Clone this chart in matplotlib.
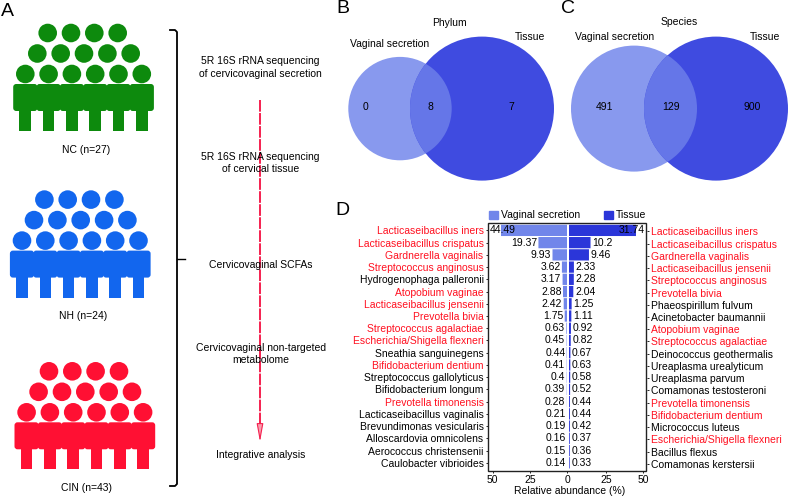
import matplotlib
matplotlib.use('Agg')
import matplotlib.pyplot as plt
from matplotlib.patches import Circle, FancyBboxPatch, Rectangle, Patch
from matplotlib.transforms import ScaledTranslation

plt.rcParams['font.family'] = ['Liberation Sans', 'DejaVu Sans']

W, H = 788, 497

# grupos do painel A
grupos = ['NC (n=27)', 'NH (n=24)', 'CIN (n=43)']
cores_grupos = ['#0d8a0d', '#1266ee', '#ff1033']

# etapas do fluxo
etapas = ['5R 16S rRNA sequencing\nof cervicovaginal secretion',
          '5R 16S rRNA sequencing\nof cervical tissue',
          'Cervicovaginal SCFAs',
          'Cervicovaginal non-targeted\nmetabolome',
          'Integrative analysis']

# venn: (esquerda, intersecção, direita)
venn_filo = [0, 8, 7]
venn_especie = [491, 129, 900]

# painel D
nomes_secrecao = ['Lacticaseibacillus iners', 'Lacticaseibacillus crispatus', 'Gardnerella vaginalis',
                  'Streptococcus anginosus', 'Hydrogenophaga palleronii', 'Atopobium vaginae',
                  'Lacticaseibacillus jensenii', 'Prevotella bivia', 'Streptococcus agalactiae',
                  'Escherichia/Shigella flexneri', 'Sneathia sanguinegens', 'Bifidobacterium dentium',
                  'Streptococcus gallolyticus', 'Bifidobacterium longum', 'Prevotella timonensis',
                  'Lacticaseibacillus vaginalis', 'Brevundimonas vesicularis', 'Alloscardovia omnicolens',
                  'Aerococcus christensenii', 'Caulobacter vibrioides']
valores_secrecao = [44.49, 19.37, 9.93, 3.62, 3.17, 2.88, 2.42, 1.75, 0.63, 0.45,
                    0.44, 0.41, 0.4, 0.39, 0.28, 0.21, 0.19, 0.16, 0.15, 0.14]
nomes_tecido = ['Lacticaseibacillus iners', 'Lacticaseibacillus crispatus', 'Gardnerella vaginalis',
                'Lacticaseibacillus jensenii', 'Streptococcus anginosus', 'Prevotella bivia',
                'Phaeospirillum fulvum', 'Acinetobacter baumannii', 'Atopobium vaginae',
                'Streptococcus agalactiae', 'Deinococcus geothermalis', 'Ureaplasma urealyticum',
                'Ureaplasma parvum', 'Comamonas testosteroni', 'Prevotella timonensis',
                'Bifidobacterium dentium', 'Micrococcus luteus', 'Escherichia/Shigella flexneri',
                'Bacillus flexus', 'Comamonas kerstersii']
valores_tecido = [31.74, 10.2, 9.46, 2.33, 2.28, 2.04, 1.25, 1.11, 0.92, 0.82,
                  0.67, 0.63, 0.58, 0.52, 0.44, 0.44, 0.42, 0.37, 0.36, 0.33]
nomes_vermelhos = ['Lacticaseibacillus iners', 'Lacticaseibacillus crispatus', 'Gardnerella vaginalis',
                   'Streptococcus anginosus', 'Atopobium vaginae', 'Lacticaseibacillus jensenii',
                   'Prevotella bivia', 'Streptococcus agalactiae', 'Escherichia/Shigella flexneri',
                   'Bifidobacterium dentium', 'Prevotella timonensis']
ticks_esquerda = [50, 25, 0]
ticks_direita = [25, 50]

COR_SECRECAO = '#7186ea'
COR_TECIDO = '#2b36d9'
COR_VENN_ESQ = '#8899ee'
COR_VENN_DIR = '#3f4be0'
COR_VENN_MEIO = '#6576e8'
COR_VERMELHO = '#ff1020'
COR_SETA = '#f5204f'
FS = 7.5


def eixo_px(x0, y0, x1, y1):
    # cria um eixo a partir de coordenadas em pixels da imagem
    return fig.add_axes([x0 / W, 1 - y1 / H, (x1 - x0) / W, (y1 - y0) / H])


def desenhar_pessoas(ax, dx, dy, cor):
    for cx in [47.7, 71, 94.3, 117.7]:
        ax.add_patch(Circle((cx + dx, 33 + dy), 9.3, color=cor, lw=0))
    for cx in [37.3, 60.7, 84, 107.4, 130.7]:
        ax.add_patch(Circle((cx + dx, 53.5 + dy), 9.3, color=cor, lw=0))
    for i in range(6):
        cx = 25.3 + i * 23.3
        ax.add_patch(Circle((cx + dx, 74 + dy), 9.3, color=cor, lw=0))
        ax.add_patch(FancyBboxPatch((cx - 10.6 + dx, 85.5 + dy), 21.2, 24, boxstyle='round,pad=1.5,rounding_size=3',
                                    color=cor, lw=0))
        ax.add_patch(Rectangle((cx - 5.8 + dx, 110 + dy), 11.6, 21, color=cor, lw=0))


def desenhar_venn(ax, esq, dir_, y, valores, xs_texto):
    # esq e dir_ = (centro x, raio)
    ax.add_patch(Circle((esq[0], y), esq[1], color=COR_VENN_ESQ, lw=0))
    tecido = Circle((dir_[0], y), dir_[1], color=COR_VENN_DIR, lw=0)
    ax.add_patch(tecido)
    meio = Circle((esq[0], y), esq[1], color=COR_VENN_MEIO, lw=0)
    ax.add_patch(meio)
    meio.set_clip_path(tecido)
    for x, v in zip(xs_texto, valores):
        ax.text(x, 107, str(v), ha='center', va='center', fontsize=FS, color='black')


fig = plt.figure(figsize=(W / 100, H / 100), dpi=100)

# camada de fundo em pixels para os paineis A, B e C
fundo = fig.add_axes([0, 0, 1, 1])
fundo.set_xlim(0, W)
fundo.set_ylim(H, 0)
fundo.axis('off')

for letra, x, y in [('A', 7.5, 11.5), ('B', 342.5, 8.5), ('C', 568, 8.5), ('D', 342.5, 210.5)]:
    fundo.text(x, y, letra, ha='center', va='center', fontsize=14)

deslocamentos = [(0, 0), (-3.3, 166.6), (1.3, 338.3)]
y_grupos = [150, 316, 488]
x_grupos = [86, 82.7, 86.7]
for nome, cor, (dx, dy), xg, yg in zip(grupos, cores_grupos, deslocamentos, x_grupos, y_grupos):
    desenhar_pessoas(fundo, dx, dy, cor)
    fundo.text(xg, yg, nome, ha='center', va='center', fontsize=FS)

# colchete
fundo.plot([170, 175, 177, 177, 175, 170], [30, 30, 32, 484, 486, 486], color='black', lw=1.3)
fundo.plot([177, 185], [258.7, 258.7], color='black', lw=1.0)

# seta tracejada
fundo.plot([260, 260], [100, 430], color=COR_SETA, lw=1.4, dashes=(6, 0.7), zorder=1)
fundo.annotate('', xy=(260, 442), xytext=(260, 422),
               arrowprops=dict(arrowstyle='-|>,head_width=0.2,head_length=1.1', color=COR_SETA, lw=0.8,
                               fc='#f8a0b0', shrinkA=0, shrinkB=0))

y_etapas = [67.7, 163, 264.7, 354, 455.3]
for etapa, y in zip(etapas, y_etapas):
    fundo.text(260.7, y, etapa, ha='center', va='center', fontsize=FS, linespacing=1.33, zorder=3)

# venn
desenhar_venn(fundo, (400, 51.7), (482, 72), 108.6, venn_filo, [365.3, 430.7, 511.3])
desenhar_venn(fundo, (634, 63), (716, 72), 108.6, venn_especie, [604.7, 670.7, 751.7])
fundo.text(449.7, 23, 'Phylum', ha='center', va='center', fontsize=FS)
fundo.text(389.7, 44.3, 'Vaginal secretion', ha='center', va='center', fontsize=FS)
fundo.text(530, 37, 'Tissue', ha='center', va='center', fontsize=FS)
fundo.text(679, 21.7, 'Species', ha='center', va='center', fontsize=FS)
fundo.text(614.7, 37, 'Vaginal secretion', ha='center', va='center', fontsize=FS)
fundo.text(765.3, 37, 'Tissue', ha='center', va='center', fontsize=FS)

# painel D: dois eixos espelhados que se tocam no zero
X0, XC_E, XC_D, X1, Y0, Y1 = 487.7, 567.3, 569, 646.5, 222.7, 470.5
ax_e = eixo_px(X0, Y0, XC_E, Y1)
ax_d = eixo_px(XC_D, Y0, X1, Y1)
n = len(valores_secrecao)
posicoes = list(range(n))

PX_E = 1.49  # pixels por unidade no lado esquerdo
PX_D = 2.11  # as barras de tecido estão em outra escala na figura
PX_TICK_D = 1.48
ax_e.set_xlim((XC_E - X0) / PX_E, 0)
ax_d.set_xlim(0, (X1 - XC_D) / PX_D)

# snap desligado para as barras muito finas não sumirem
ax_e.barh(posicoes, valores_secrecao, height=0.92, color=COR_SECRECAO, lw=0, snap=False)
ax_d.barh(posicoes, valores_tecido, height=0.92, color=COR_TECIDO, lw=0, snap=False)

for ax, nomes, lado in [(ax_e, nomes_secrecao, 'left'), (ax_d, nomes_tecido, 'right')]:
    ax.set_ylim(n - 0.5 + 0.13, -0.5 - 0.13)
    ax.set_yticks(posicoes)
    ax.set_yticklabels(nomes, fontsize=FS)
    ax.yaxis.set_ticks_position(lado)
    ax.tick_params(axis='y', length=1.5, width=0.6, pad=1.5)
    ax.tick_params(axis='x', length=1.5, width=0.6, pad=2, labelsize=FS)
    for s in ax.spines.values():
        s.set_visible(False)

# cor de cada rótulo; na direita os rótulos ficam 1 px abaixo
for tick, nome in zip(ax_e.yaxis.get_major_ticks(), nomes_secrecao):
    tick.label1.set_color(COR_VERMELHO if nome in nomes_vermelhos else 'black')
desce = ScaledTranslation(0, -1 / 100, fig.dpi_scale_trans)
for tick, nome in zip(ax_d.yaxis.get_major_ticks(), nomes_tecido):
    tick.label2.set_color(COR_VERMELHO if nome in nomes_vermelhos else 'black')
    tick.label2.set_transform(tick.label2.get_transform() + desce)
    tick.tick2line.set_transform(tick.tick2line.get_transform() + desce)

# moldura única por cima dos dois eixos
fig.add_artist(Rectangle((X0, Y0), X1 - X0, Y1 - Y0, transform=fundo.transData, fill=False,
                         ec='#222222', lw=1.0, zorder=5))

ax_e.set_xticks(ticks_esquerda)
ax_e.set_xticklabels([str(v) for v in ticks_esquerda])
# os rótulos 25 e 50 da direita ficam simétricos aos da esquerda, como na figura
ax_d.set_xticks([v * PX_TICK_D / PX_D for v in ticks_direita])
ax_d.set_xticklabels([str(v) for v in ticks_direita])

# valores
for i, v in enumerate(valores_secrecao):
    if i == 0:
        ax_e.annotate(f'{v:g}', (0, i), xycoords=('axes fraction', 'data'), xytext=(1.5, 0),
                      textcoords='offset points', ha='left', va='center', fontsize=FS)
    else:
        ax_e.annotate(f'{v:g}', (v, i), xytext=(-1, 0), textcoords='offset points',
                      ha='right', va='center', fontsize=FS)
for i, v in enumerate(valores_tecido):
    if i == 0:
        ax_d.annotate(f'{v:g}', (1, i), xycoords=('axes fraction', 'data'), xytext=(-1.5, 0),
                      textcoords='offset points', ha='right', va='center', fontsize=FS)
    else:
        ax_d.annotate(f'{v:g}', (v, i), xytext=(1.2, 0), textcoords='offset points',
                      ha='left', va='center', fontsize=FS)

fundo.text(569.3, 491.3, 'Relative abundance (%)', ha='center', va='center', fontsize=FS)

fig.legend(handles=[Patch(color=COR_SECRECAO, label='Vaginal secretion'), Patch(color=COR_TECIDO, label='Tissue')],
           loc='center left', bbox_to_anchor=(489.3 / W, 1 - 215.5 / H), ncol=2, frameon=False, fontsize=FS,
           handlelength=0.87, handleheight=0.87, handletextpad=0.28, columnspacing=2.28, borderpad=0, borderaxespad=0)

fig.savefig('out.png', dpi=100)
plt.close(fig)
